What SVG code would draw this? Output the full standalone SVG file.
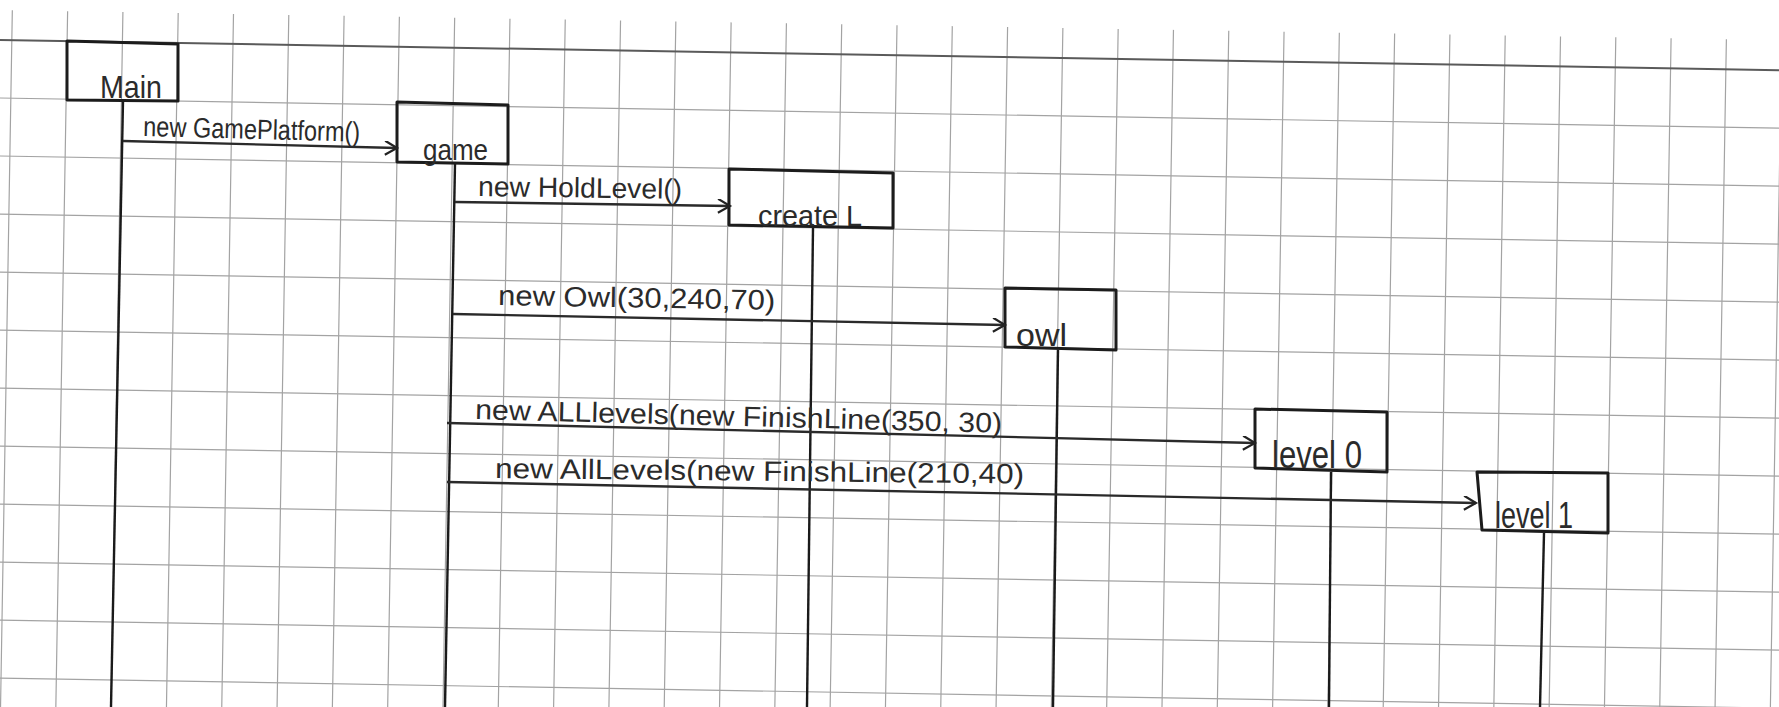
<svg xmlns="http://www.w3.org/2000/svg" width="1779" height="707" viewBox="0 0 1779 707">
<style>
.grid{fill:none;stroke:#a3a3a3;stroke-width:1.2}
.margin{fill:none;stroke:#5a5a5a;stroke-width:2}
.box{fill:none;stroke:#1c1c1c;stroke-width:3;stroke-linejoin:round}
.life{fill:none;stroke:#1a1a1a;stroke-width:2.4}
.msg{fill:none;stroke:#2a2a2a;stroke-width:2.4;marker-end:url(#open)}
.lbl{font-family:"Liberation Sans",Arial,sans-serif;font-size:28px;fill:#2b2b2b}
.name{font-family:"Liberation Sans",Arial,sans-serif;fill:#2b2b2b}
</style>
<defs>
<marker id="open" markerUnits="userSpaceOnUse" markerWidth="16" markerHeight="16" refX="13" refY="7" orient="auto">
<path d="M1,0 L13,7 L1,14" fill="none" stroke="#222" stroke-width="2.2"/>
</marker>
</defs>
<rect width="1779" height="707" fill="#ffffff"/>
<g id="paper-grid" transform="rotate(0.97)">
<path class="grid" d="M12.5 10V760M67.8 10V760M123.1 10V760M178.4 10V760M233.7 10V760M289 10V760M344.3 10V760M399.6 10V760M454.9 10V760M510.2 10V760M565.5 10V760M620.8 10V760M676.1 10V760M731.4 10V760M786.7 10V760M842 10V760M897.3 10V760M952.6 10V760M1007.9 10V760M1063.2 10V760M1118.5 10V760M1173.8 10V760M1229.1 10V760M1284.4 10V760M1339.7 10V760M1395 10V760M1450.3 10V760M1505.6 10V760M1560.9 10V760M1616.2 10V760M1671.5 10V760M1726.8 10V760M1782.1 10V760"/>
<path class="grid" d="M-20 98H1820M-20 156H1820M-20 214H1820M-20 272H1820M-20 330H1820M-20 388H1820M-20 446H1820M-20 504H1820M-20 562H1820M-20 620H1820M-20 678H1820M-20 736H1820"/>
<path class="margin" d="M-20 40H1820"/>
</g>
<g id="Main">
<path class="box" d="M67 41L178 44L178 101L67 100Z"/>
<text class="name" x="100" y="98" font-size="32" textLength="62" lengthAdjust="spacingAndGlyphs">Main</text>
<path class="life" d="M123 101L111 707"/>
</g>
<g id="game">
<path class="box" d="M397 102L508 105L508 164L397 162Z"/>
<text class="name" x="423" y="160" font-size="30" textLength="65" lengthAdjust="spacingAndGlyphs">game</text>
<path class="life" d="M455 164L445 707"/>
</g>
<g id="createL">
<path class="box" d="M729 169L893 173L893 228L729 225Z"/>
<text class="name" x="758" y="226" font-size="29" textLength="104" lengthAdjust="spacingAndGlyphs">create L</text>
<path class="life" d="M813 228L807 707"/>
</g>
<g id="owl">
<path class="box" d="M1005 288L1116 290L1116 350L1005 347Z"/>
<text class="name" x="1016" y="346" font-size="32" textLength="51" lengthAdjust="spacingAndGlyphs">owl</text>
<path class="life" d="M1058 350L1053 707"/>
</g>
<g id="level0">
<path class="box" d="M1255 409L1387 412L1387 472L1255 468Z"/>
<text class="name" x="1272" y="468" font-size="38" textLength="90" lengthAdjust="spacingAndGlyphs">level 0</text>
<path class="life" d="M1331 472L1329 707"/>
</g>
<g id="level1">
<path class="box" d="M1477 472L1608 473L1608 533L1482 530Z"/>
<text class="name" x="1495" y="528" font-size="36" textLength="78" lengthAdjust="spacingAndGlyphs">level 1</text>
<path class="life" d="M1544 533L1540 707"/>
</g>
<g id="connectors">
<path class="msg" d="M123 141L397 148"/>
<text class="lbl" x="143" y="136" textLength="217" lengthAdjust="spacingAndGlyphs" transform="rotate(1.5 143 136)">new GamePlatform()</text>
<path class="msg" d="M455 202L730 206"/>
<text class="lbl" x="478" y="196" textLength="204" lengthAdjust="spacingAndGlyphs" transform="rotate(0.8 478 196)">new HoldLevel()</text>
<path class="msg" d="M453 314L1005 325"/>
<text class="lbl" x="498" y="305" textLength="277" lengthAdjust="spacingAndGlyphs" transform="rotate(1 498 305)">new Owl(30,240,70)</text>
<path class="msg" d="M447 423L1255 443"/>
<text class="lbl" x="475" y="419" textLength="527" lengthAdjust="spacingAndGlyphs" transform="rotate(1.5 475 419)">new ALLlevels(new FinishLine(350, 30)</text>
<path class="msg" d="M447 482L1476 503"/>
<text class="lbl" x="495" y="478" textLength="529" lengthAdjust="spacingAndGlyphs" transform="rotate(0.6 495 478)">new AllLevels(new FinishLine(210,40)</text>
</g>
</svg>
